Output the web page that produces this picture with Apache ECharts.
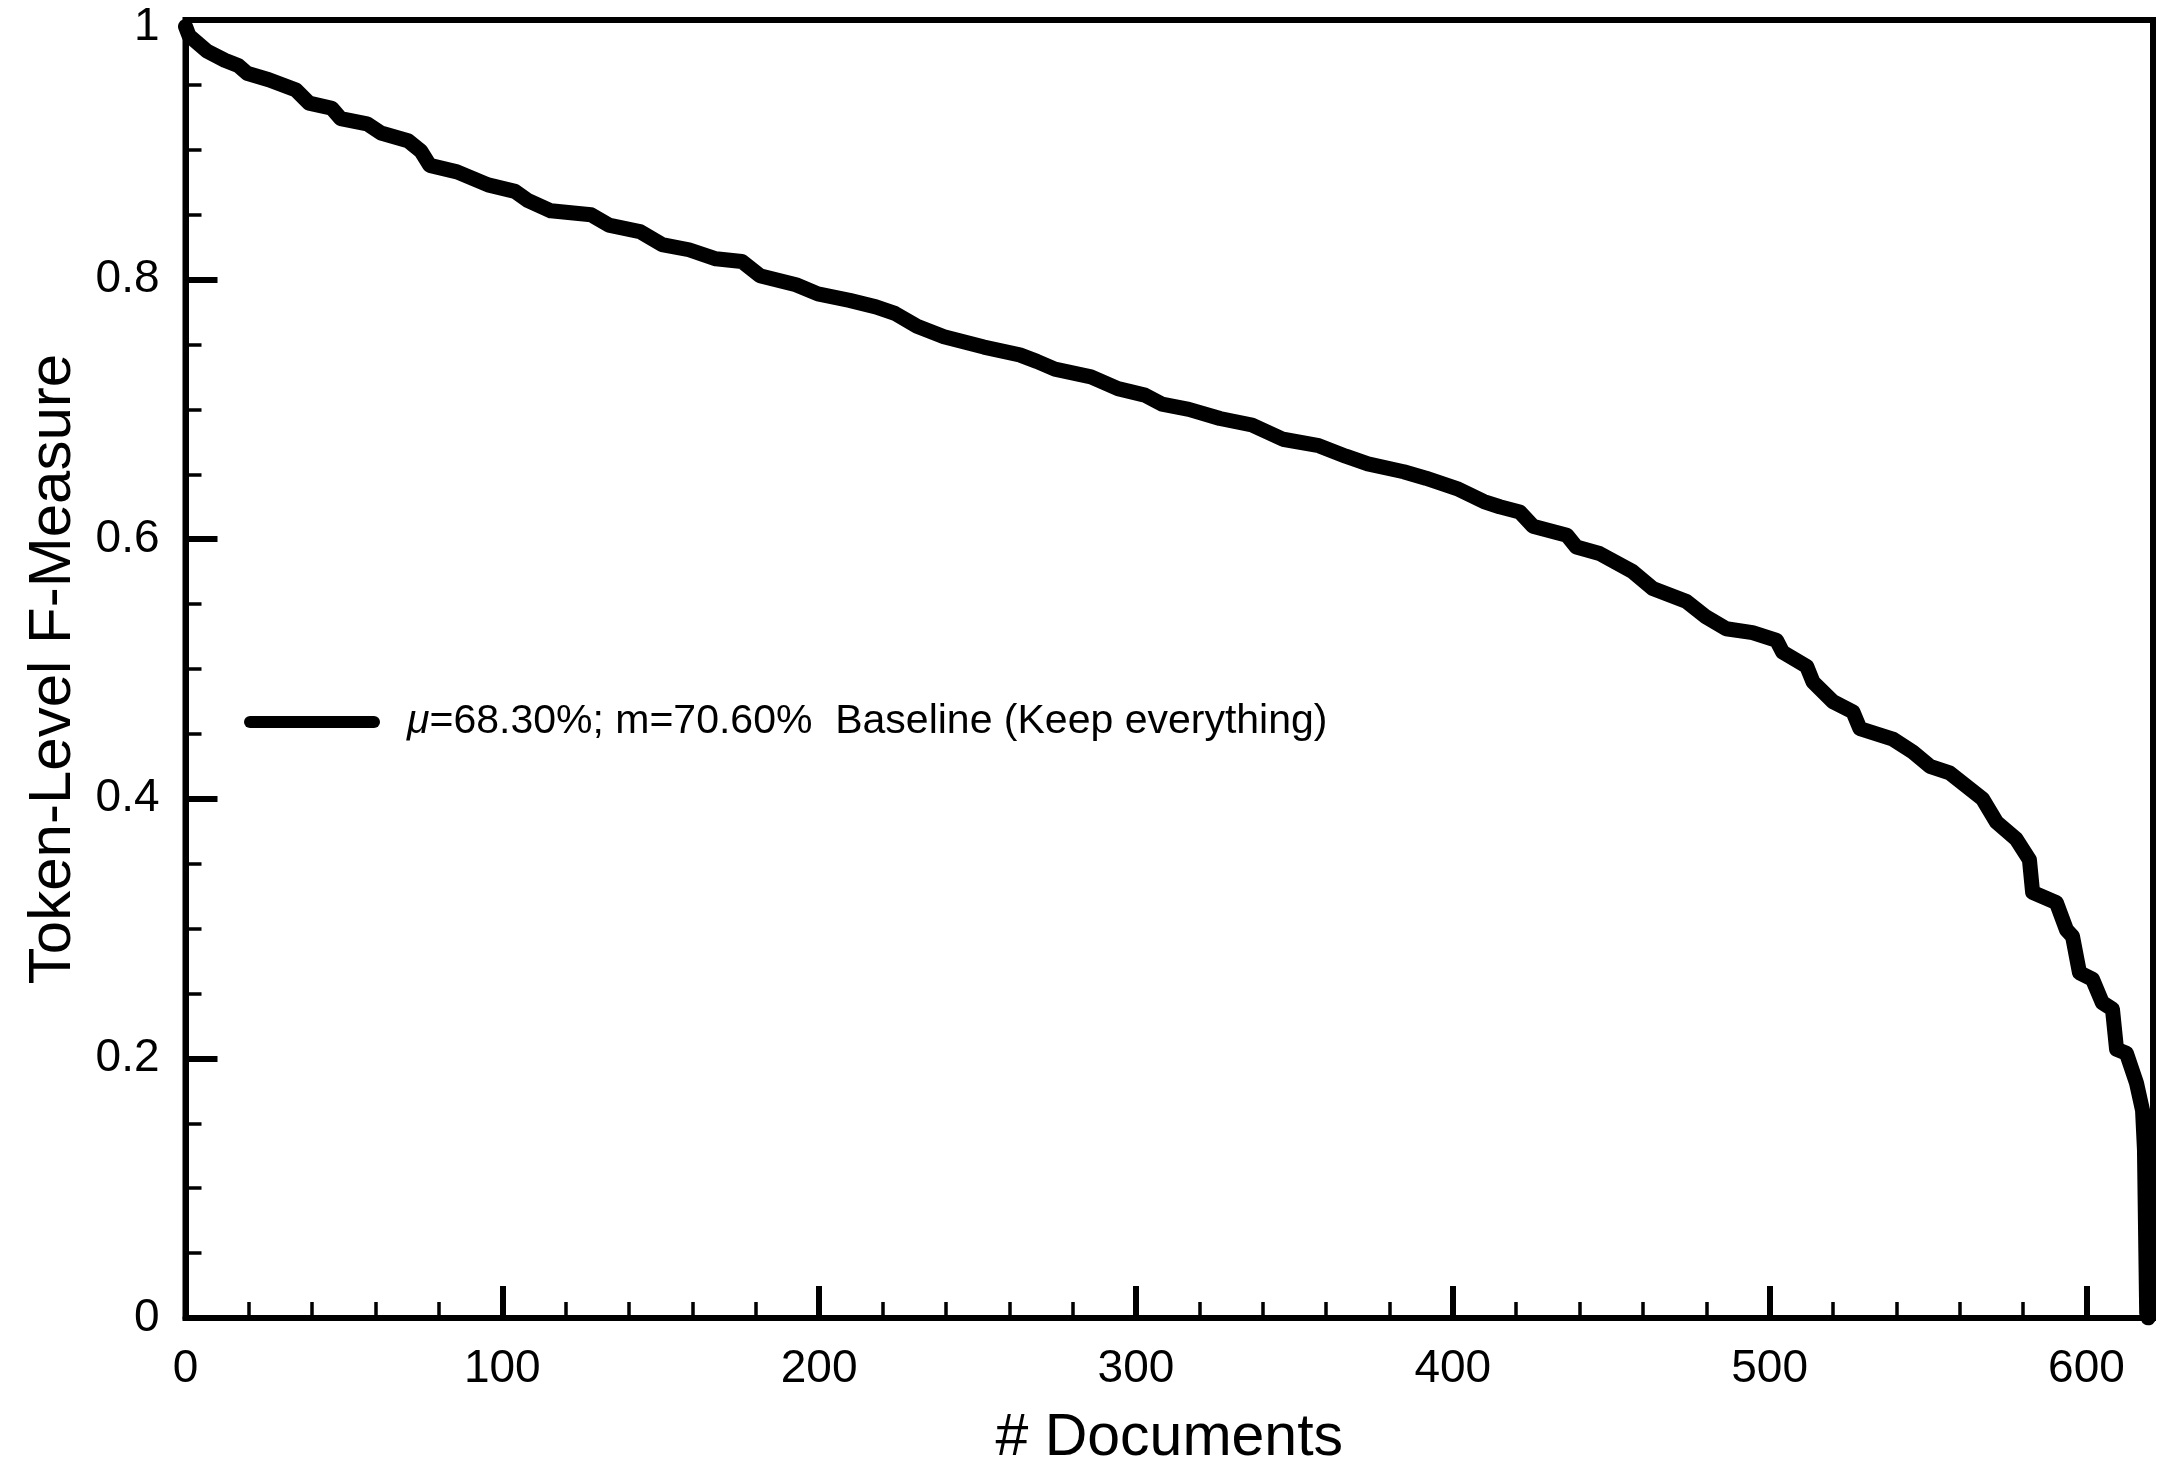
<!DOCTYPE html>
<html>
<head>
<meta charset="utf-8">
<script src="https://cdn.jsdelivr.net/npm/echarts@6/dist/echarts.min.js"></script>
<style>
  html, body { margin: 0; padding: 0; background: #fff; }
  #chart { width: 2157px; height: 1459px; }
</style>
</head>
<body>
<div id="chart"></div>
<script>
// ---- data ----
const docs = [0, 1.1, 6.8, 12.4, 16.6, 19.4, 26.3, 34.9, 39, 46.2, 49, 57.3, 61.7, 70.2, 74.3, 77.1, 85.7, 95.5, 104, 108, 115.3, 128, 133.6, 143.4, 150.4, 158.9, 167.4, 175.6, 181.3, 192.7, 199.6, 209.6, 217.9, 223.9, 230.9, 239.4, 252, 263.3, 268.7, 274.4, 285.8, 294.3, 302.8, 308.2, 316.7, 326.5, 336.6, 346.4, 357.7, 366.2, 373.2, 384.5, 391.5, 401.3, 409.8, 414.8, 421.1, 425.3, 436, 439, 446.3, 456.8, 463.1, 473.8, 480, 486.3, 494.6, 502.2, 504.1, 511.7, 513.7, 519.9, 526.3, 528.5, 538.9, 545.2, 550.6, 556.8, 567.2, 571.6, 577.8, 582, 583, 590.5, 593.7, 595.6, 597.8, 601.9, 605, 608.2, 609.5, 612.6, 615.8, 617.7, 618.3, 619, 619.5];
const fmeasure = [0.995, 0.988, 0.976, 0.969, 0.965, 0.959, 0.954, 0.946, 0.936, 0.932, 0.924, 0.920, 0.913, 0.907, 0.899, 0.888, 0.883, 0.873, 0.868, 0.861, 0.853, 0.850, 0.842, 0.837, 0.827, 0.823, 0.816, 0.814, 0.803, 0.796, 0.789, 0.784, 0.779, 0.774, 0.764, 0.756, 0.748, 0.742, 0.737, 0.731, 0.725, 0.716, 0.711, 0.704, 0.700, 0.693, 0.688, 0.677, 0.672, 0.664, 0.658, 0.652, 0.647, 0.639, 0.629, 0.625, 0.621, 0.610, 0.603, 0.594, 0.589, 0.575, 0.562, 0.552, 0.540, 0.531, 0.528, 0.522, 0.513, 0.502, 0.490, 0.475, 0.467, 0.454, 0.446, 0.436, 0.425, 0.420, 0.400, 0.382, 0.369, 0.353, 0.328, 0.320, 0.299, 0.294, 0.266, 0.261, 0.243, 0.238, 0.207, 0.204, 0.181, 0.160, 0.130, 0.004, 0];
const seriesName = 'Baseline (Keep everything)';
const legendMu = 'μ';
const legendRest = '=68.30%; m=70.60%  Baseline (Keep everything)';
const xTitle = '# Documents';
const yTitle = 'Token-Level F-Measure';
const xMin = 0, xMax = 621, xMajor = 100, xMinor = 20;
const yMin = 0, yMax = 1, yMajor = 0.2;

const points = docs.map((d, i) => [d, fmeasure[i]]);
const FONT = '"Liberation Sans", Arial, Helvetica, sans-serif';

const chart = echarts.init(document.getElementById('chart'), null, { renderer: 'canvas' });
chart.setOption({
  animation: false,
  backgroundColor: '#fff',
  grid: {
    left: 185.5, right: 4, top: 20, bottom: 141,
    containLabel: false, outerBoundsMode: 'none',
    show: true, borderColor: '#000', borderWidth: 6, backgroundColor: 'transparent'
  },
  legend: {
    show: true,
    left: 244, top: 699,
    padding: 0,
    itemWidth: 136, itemHeight: 13,
    icon: 'path://M6,0 L130,0 A6,6 0 0 1 130,12 L6,12 A6,6 0 0 1 6,0 Z',
    formatter: () => '{i|' + legendMu + '}' + legendRest,
    textStyle: {
      fontFamily: FONT, fontSize: 41, color: '#000', lineHeight: 46,
      padding: [0, 0, 0, 22],
      rich: { i: { fontFamily: FONT, fontSize: 41, fontStyle: 'italic', color: '#000', lineHeight: 46 } }
    },
    data: [{ name: seriesName, itemStyle: { color: '#000' } }]
  },
  xAxis: [
    {
      type: 'value', min: xMin, max: xMax, interval: xMajor, position: 'bottom',
      name: xTitle, nameLocation: 'middle', nameGap: 91,
      nameTextStyle: { fontFamily: FONT, fontSize: 59, color: '#000' },
      axisLine: { show: true, onZero: false, lineStyle: { color: '#000', width: 6 } },
      axisTick: { show: true, inside: true, length: 32, lineStyle: { color: '#000', width: 6 } },
      axisLabel: {
        show: true, margin: 28, fontFamily: FONT, fontSize: 46, color: '#000',
        formatter: v => (v % xMajor === 0 ? String(v) : '')
      },
      splitLine: { show: false }
    },
    {
      type: 'value', min: xMin, max: xMax, interval: xMinor, position: 'bottom', gridIndex: 0,
      axisLine: { show: false, onZero: false },
      axisTick: { show: true, inside: true, length: 16, lineStyle: { color: '#000', width: 3.5 } },
      axisLabel: { show: false },
      splitLine: { show: false }
    }
  ],
  yAxis: {
    type: 'value', min: yMin, max: yMax, interval: yMajor, position: 'left',
    name: yTitle, nameLocation: 'middle', nameGap: 102,
    nameTextStyle: { fontFamily: FONT, fontSize: 60, color: '#000' },
    axisLine: { show: true, onZero: false, lineStyle: { color: '#000', width: 6 } },
    axisTick: { show: true, inside: true, length: 32, lineStyle: { color: '#000', width: 6 } },
    minorTick: { show: true, splitNumber: 4, length: 16, lineStyle: { color: '#000', width: 3.5 } },
    axisLabel: {
      show: true, margin: 26, fontFamily: FONT, fontSize: 46, color: '#000',
      formatter: v => (v === 1 ? '{top|1}' : String(Math.round(v * 10) / 10)),
      rich: { top: { fontFamily: FONT, fontSize: 46, color: '#000', padding: [14, 0, 0, 0] } }
    },
    splitLine: { show: false }
  },
  series: [{
    name: seriesName,
    type: 'line',
    xAxisIndex: 0,
    data: points,
    showSymbol: false,
    symbol: 'none',
    clip: true,
    lineStyle: { color: '#000', width: 15, cap: 'round', join: 'round' },
    itemStyle: { color: '#000' }
  }]
});
</script>
</body>
</html>
